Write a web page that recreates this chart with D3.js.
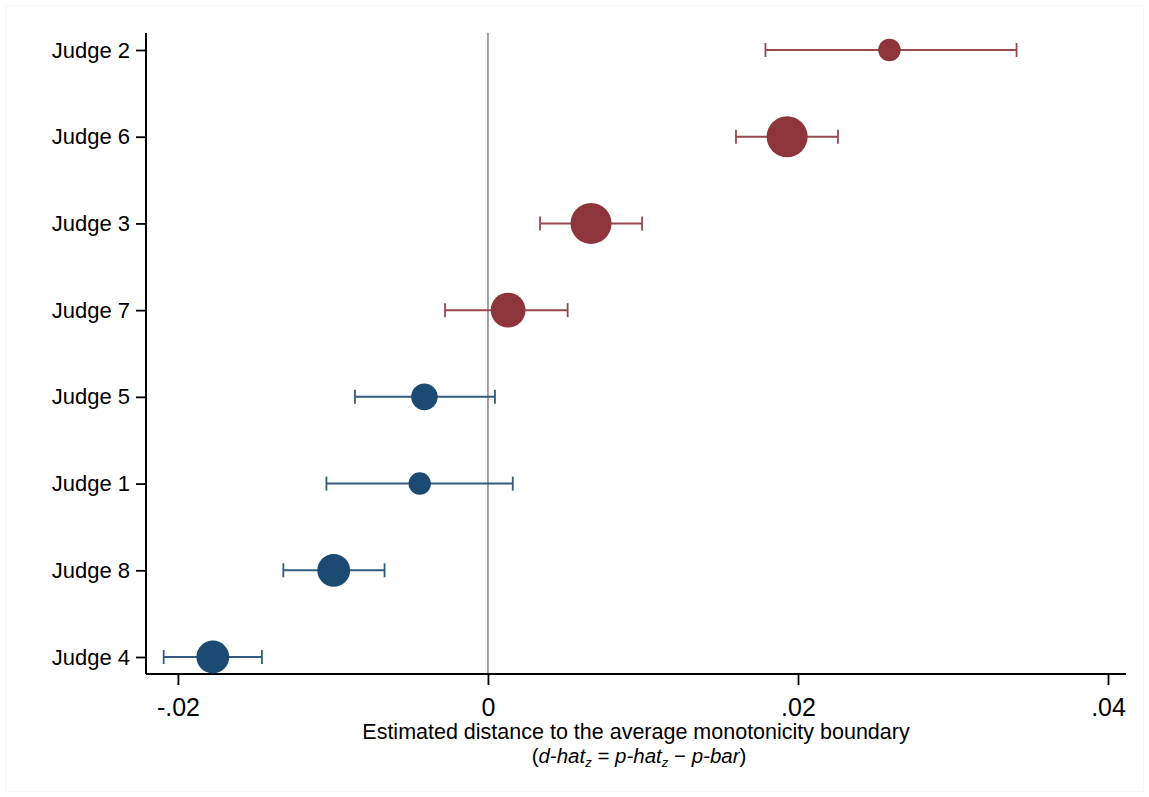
<!DOCTYPE html>
<html>
<head>
<meta charset="utf-8">
<script src="https://cdn.jsdelivr.net/npm/d3@7"></script>
<style>
  body { margin: 0; background: #fff; }
  text { font-family: Arial, "Liberation Sans", sans-serif; }
</style>
</head>
<body>
<div id="chart"></div>
<script>
// judges, top to bottom
const judges = ["Judge 2", "Judge 6", "Judge 3", "Judge 7", "Judge 5", "Judge 1", "Judge 8", "Judge 4"];
const estimates = [0.0259, 0.0193, 0.00665, 0.0013, -0.0041, -0.0044, -0.00995, -0.01775];
const ciLow = [0.0179, 0.0160, 0.00336, -0.00277, -0.00858, -0.01042, -0.0132, -0.02092];
const ciHigh = [0.0341, 0.02258, 0.00994, 0.00514, 0.00045, 0.0016, -0.00667, -0.01458];
// relative weight of each judge (marker size)
const weights = [30, 100, 100, 72, 42, 30, 64, 64];
const xTicks = [-0.02, 0, 0.02, 0.04];
const xTickLabels = ["-.02", "0", ".02", ".04"];

const WIDTH = 1149, HEIGHT = 797;
const MARGIN = { LEFT: 146, RIGHT: 23, TOP: 33, BOTTOM: 123 };
const RED = "#8e353c", BLUE = "#1b4a72";

const data = judges.map((j, i) => ({
    judge: j, est: estimates[i], lo: ciLow[i], hi: ciHigh[i], w: weights[i]
}));

const svg = d3.select("#chart")
    .append("svg")
    .attr("width", WIDTH)
    .attr("height", HEIGHT);

// faint outer frame
svg.append("rect")
    .attr("x", 5.5).attr("y", 5.5)
    .attr("width", WIDTH - 11).attr("height", HEIGHT - 11)
    .attr("fill", "none")
    .attr("stroke", "#f7f7f7");

const x = d3.scaleLinear()
    .domain([-0.02206, 0.04116])
    .range([MARGIN.LEFT, WIDTH - MARGIN.RIGHT]);

const y = d3.scalePoint()
    .domain(judges)
    .range([50, 657]);

const r = d3.scaleSqrt()
    .domain([0, d3.max(weights)])
    .range([0, 20.5]);

const plotBottom = HEIGHT - MARGIN.BOTTOM; // 674

// zero reference line
svg.append("line")
    .attr("x1", x(0)).attr("x2", x(0))
    .attr("y1", MARGIN.TOP).attr("y2", plotBottom)
    .attr("stroke", "#9a9a9a")
    .attr("stroke-width", 1.8);

// x axis
const xAxis = d3.axisBottom(x)
    .tickValues(xTicks)
    .tickFormat((d, i) => xTickLabels[i])
    .tickSize(11)
    .tickSizeOuter(0)
    .tickPadding(13);

const gx = svg.append("g")
    .attr("transform", `translate(0, ${plotBottom})`)
    .call(xAxis);
gx.select(".domain").attr("stroke", "#000").attr("stroke-width", 2)
    .attr("d", `M${MARGIN.LEFT},0H${WIDTH - MARGIN.RIGHT}`);
gx.selectAll(".tick line").attr("stroke", "#000").attr("stroke-width", 1.8);
gx.selectAll(".tick text")
    .attr("fill", "#000")
    .style("font-size", "25px");

// y axis
const yAxis = d3.axisLeft(y)
    .tickSize(10)
    .tickSizeOuter(0)
    .tickPadding(6);

const gy = svg.append("g")
    .attr("transform", `translate(${MARGIN.LEFT}, 0)`)
    .call(yAxis);
gy.select(".domain").attr("stroke", "#000").attr("stroke-width", 2)
    .attr("d", `M0,${MARGIN.TOP}V${plotBottom}`);
gy.selectAll(".tick line").attr("stroke", "#000").attr("stroke-width", 1.8);
gy.selectAll(".tick text")
    .attr("fill", "#000")
    .style("font-size", "22px");

// error bars
const bars = svg.append("g").selectAll(".ci")
    .data(data)
    .enter().append("g")
    .attr("class", "ci")
    .attr("stroke", d => d.est > 0 ? RED : BLUE)
    .attr("opacity", 0.9);

bars.append("line")
    .attr("x1", d => x(d.lo)).attr("x2", d => x(d.hi))
    .attr("y1", d => y(d.judge)).attr("y2", d => y(d.judge))
    .attr("stroke-width", 2);

bars.append("line")
    .attr("x1", d => x(d.lo)).attr("x2", d => x(d.lo))
    .attr("y1", d => y(d.judge) - 7).attr("y2", d => y(d.judge) + 7)
    .attr("stroke-width", 1.8);

bars.append("line")
    .attr("x1", d => x(d.hi)).attr("x2", d => x(d.hi))
    .attr("y1", d => y(d.judge) - 7).attr("y2", d => y(d.judge) + 7)
    .attr("stroke-width", 1.8);

// points
svg.append("g").selectAll(".dot")
    .data(data)
    .enter().append("circle")
    .attr("class", "dot")
    .attr("cx", d => x(d.est))
    .attr("cy", d => y(d.judge))
    .attr("r", d => r(d.w))
    .attr("fill", d => d.est > 0 ? RED : BLUE);

// axis titles
const cx = (MARGIN.LEFT + WIDTH - MARGIN.RIGHT) / 2;
svg.append("text")
    .attr("x", cx)
    .attr("y", 739)
    .attr("text-anchor", "middle")
    .style("font-size", "21.5px")
    .attr("fill", "#000")
    .text("Estimated distance to the average monotonicity boundary");

const sub = svg.append("text")
    .attr("x", cx + 3)
    .attr("y", 763)
    .attr("text-anchor", "middle")
    .style("font-size", "20.5px")
    .attr("fill", "#000");
sub.append("tspan").text("(");
sub.append("tspan").style("font-style", "italic").text("d-hat");
sub.append("tspan").style("font-style", "italic").style("font-size", "13px").attr("dy", 4).text("z");
sub.append("tspan").attr("dy", -4).text(" = ");
sub.append("tspan").style("font-style", "italic").text("p-hat");
sub.append("tspan").style("font-style", "italic").style("font-size", "13px").attr("dy", 4).text("z");
sub.append("tspan").attr("dy", -4).text(" \u2212 ");
sub.append("tspan").style("font-style", "italic").text("p-bar");
sub.append("tspan").text(")");
</script>
</body>
</html>
